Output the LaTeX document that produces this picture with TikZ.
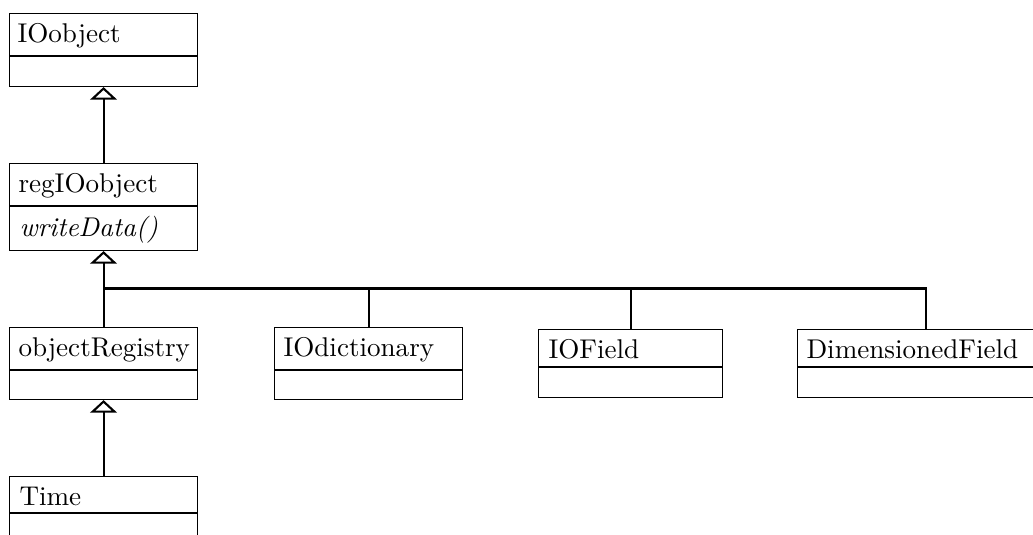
\documentclass[tikz,border=0pt]{standalone}
\usetikzlibrary{arrows.meta}
\begin{document}
\begin{tikzpicture}[x=0.38pt,y=-0.38pt,
  clsbox/.style={draw, line width=0.42pt, inner sep=0pt, anchor=north west},
  clstext/.style={inner sep=0pt, anchor=base west, font=\fontsize{10.3}{12}\selectfont},
  divider/.style={line width=0.42pt},
  inherit/.style={line width=0.8pt, -{Triangle[open, length=4.8pt, width=10.2pt, line width=0.8pt]}},
  branch/.style={line width=0.8pt}]
\useasboundingbox (0,0) rectangle (1033,535);
\newcommand\umlclass[8]{%
  \node[clsbox, minimum width={(#4-#2)*0.38pt}, minimum height={(#5-#3)*0.38pt}] (#1) at (#2,#3) {};
  \draw[divider] (#2,#6) -- (#4,#6);
  \node[clstext] (#1-name) at (#2+#7,#3+30) {#8};
}
\umlclass{ioobject}{9}{13}{197}{86}{56}{8}{IOobject}
\umlclass{regio}{9}{163}{197}{250}{206}{9}{regIOobject}
\node[clstext] (regio-op) at (19,237) {\itshape writeData()};
\umlclass{objreg}{9}{327}{197}{399}{370}{9}{objectRegistry}
\umlclass{iodict}{274}{327}{462}{399}{370}{9}{IOdictionary}
\umlclass{iofield}{538}{329}{722}{397}{367}{10}{IOField}
\umlclass{dimfield}{797}{329}{1053}{397}{367}{9}{DimensionedField}
\umlclass{time}{9}{476}{197}{545}{513}{10}{Time}
\draw[inherit] (regio.north) -- (ioobject.south);
\draw[inherit] (objreg.north) -- (regio.south);
\draw[inherit] (time.north) -- (objreg.south);
\coordinate (bar) at (103,288.5);
\draw[branch] (bar) -| (dimfield.north);
\draw[branch] (iodict.north |- bar) -- (iodict.north);
\draw[branch] (iofield.north |- bar) -- (iofield.north);
\end{tikzpicture}
\end{document}
